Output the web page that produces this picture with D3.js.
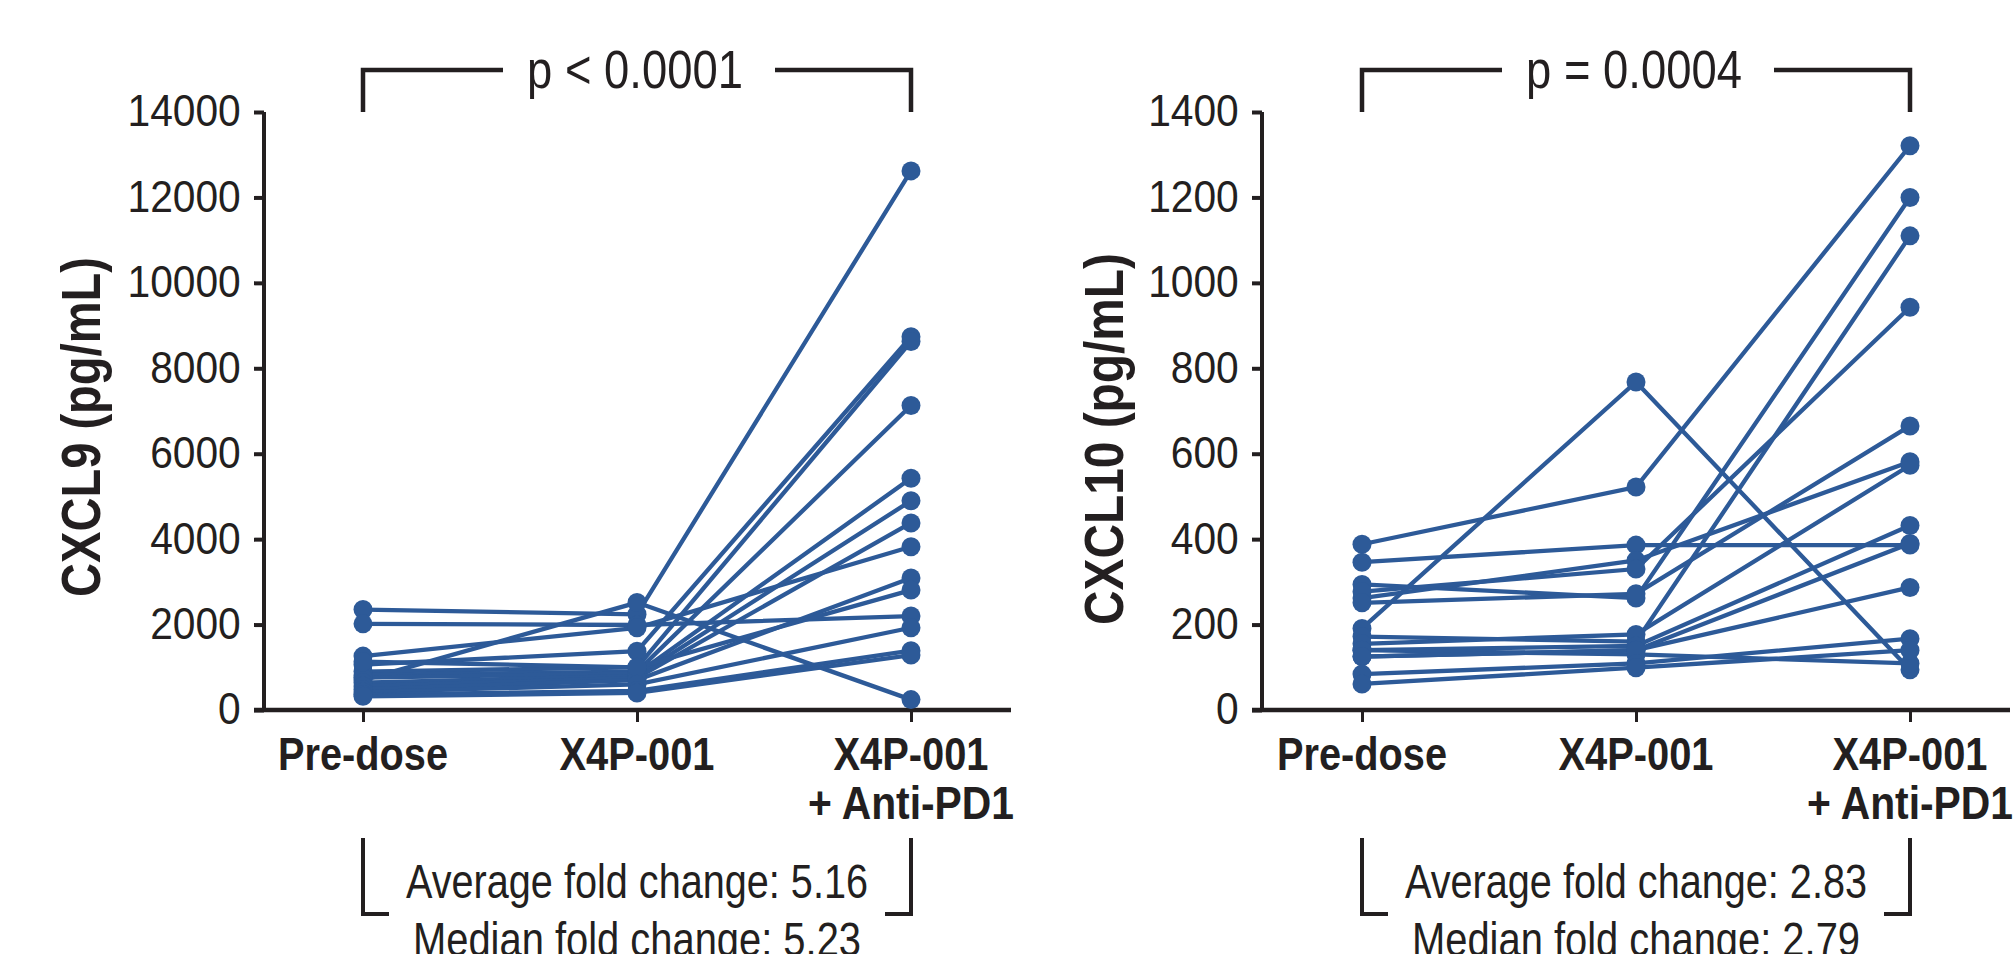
<!DOCTYPE html>
<html>
<head>
<meta charset="utf-8">
<script src="https://cdn.jsdelivr.net/npm/d3@7/dist/d3.min.js"></script>
<style>
  html, body { margin: 0; padding: 0; background: #ffffff; }
  svg { display: block; }
  .cond { font-family: "Liberation Sans Narrow", "Liberation Sans", "DejaVu Sans Condensed", sans-serif; }
</style>
</head>
<body>
<svg id="chart" width="2013" height="954"></svg>
<script>
// ---------------- DATA ----------------
const categories = ["Pre-dose", "X4P-001", "X4P-001 + Anti-PD1"];
const categoryLines = [["Pre-dose"], ["X4P-001"], ["X4P-001", "+ Anti-PD1"]];

// CXCL9 (pg/mL), one entry per patient
const cxcl9PreDose = [2351, 2017, 1262, 700, 1060, 900, 820, 760, 640, 560, 480, 1130, 420, 360, 320];
const cxcl9X4P     = [2240, 1990, 1925, 2515, 1375, 1000, 900, 850, 800, 750, 700, 1000, 600, 450, 400];
const cxcl9Combo   = [12621, 2200, 3822, 243, 8739, 8627, 7127, 5424, 4897, 4379, 3092, 2808, 1926, 1389, 1287];
const cxcl9Ticks   = [0, 2000, 4000, 6000, 8000, 10000, 12000, 14000];

// CXCL10 (pg/mL), one entry per patient
const cxcl10PreDose = [191, 388, 346, 294, 262, 277, 251, 172, 155, 140, 125, 140, 125, 84, 61];
const cxcl10X4P     = [768, 522, 386, 262, 350, 330, 272, 160, 177, 150, 140, 130, 140, 109, 99];
const cxcl10Combo   = [94, 1321, 386, 1200, 581, 943, 665, 1110, 573, 432, 287, 109, 390, 167, 140];
const cxcl10Ticks   = [0, 200, 400, 600, 800, 1000, 1200, 1400];

const yTitles      = ["CXCL9 (pg/mL)", "CXCL10 (pg/mL)"];
const pValueLabels = ["p < 0.0001", "p = 0.0004"];
const averageFold  = ["Average fold change: 5.16", "Average fold change: 2.83"];
const medianFold   = ["Median fold change: 5.23", "Median fold change: 2.79"];

// ---------------- STYLE / LAYOUT ----------------
const INK = "#231f20";
const BLUE = "#2d5a98";
const svg = d3.select("#chart");

const panels = [
  { axisX: 264, catRange: [363, 911], max: 14000, ticks: cxcl9Ticks,
    pre: cxcl9PreDose, mid: cxcl9X4P, post: cxcl9Combo,
    title: yTitles[0], titleX: 100, titleY: 427, titleLen: 340,
    p: pValueLabels[0], avg: averageFold[0], med: medianFold[0] },
  { axisX: 1262, catRange: [1362, 1910], max: 1400, ticks: cxcl10Ticks,
    pre: cxcl10PreDose, mid: cxcl10X4P, post: cxcl10Combo,
    title: yTitles[1], titleX: 1123, titleY: 439, titleLen: 372,
    p: pValueLabels[1], avg: averageFold[1], med: medianFold[1] }
];

const Y0 = 710, YTOP = 112;

panels.forEach(P => {
  const g = svg.append("g");
  const x = d3.scalePoint().domain(categories).range(P.catRange);
  const y = d3.scaleLinear().domain([0, P.max]).range([Y0, YTOP]);
  const cx = (P.catRange[0] + P.catRange[1]) / 2;
  const x0 = P.catRange[0], x2 = P.catRange[1];

  // y axis
  const yAxis = d3.axisLeft(y).tickValues(P.ticks).tickSize(10).tickSizeOuter(0).tickPadding(14)
    .tickFormat(d3.format("d"));
  const ya = g.append("g").attr("transform", `translate(${P.axisX},0)`).call(yAxis);
  ya.select(".domain").attr("stroke", INK).attr("stroke-width", 4)
    .attr("d", `M0,${YTOP}V${Y0}`);
  ya.selectAll(".tick line").attr("stroke", INK).attr("stroke-width", 4);
  ya.selectAll(".tick text").attr("fill", INK)
    .attr("font-family", "'Liberation Sans', Arial, sans-serif")
    .attr("font-size", 42)
    .attr("transform", "scale(0.97,1.04)");

  // x axis (baseline + ticks)
  const xAxis = d3.axisBottom(x).tickSize(12).tickSizeOuter(0).tickFormat("");
  const xa = g.append("g").attr("transform", `translate(0,${Y0})`).call(xAxis);
  xa.select(".domain").attr("stroke", INK).attr("stroke-width", 4.5)
    .attr("d", `M${P.axisX - 10},0H${x2 + 100}`);
  xa.selectAll(".tick line").attr("stroke", INK).attr("stroke-width", 3);

  // category labels
  const lens = { "Pre-dose": 170, "X4P-001": 155, "+ Anti-PD1": 206 };
  categoryLines.forEach((lines, i) => {
    const t = g.append("text").attr("class", "cond")
      .attr("text-anchor", "middle").attr("font-weight", "bold")
      .attr("font-size", 46).attr("fill", INK);
    lines.forEach((ln, j) => {
      t.append("tspan").attr("x", x(categories[i])).attr("y", 770 + j * 49)
        .attr("textLength", lens[ln]).attr("lengthAdjust", "spacingAndGlyphs")
        .text(ln);
    });
  });

  // y title
  g.append("text").attr("class", "cond")
    .attr("transform", `translate(${P.titleX},${P.titleY}) rotate(-90)`)
    .attr("text-anchor", "middle").attr("font-weight", "bold")
    .attr("font-size", 56).attr("fill", INK)
    .attr("textLength", P.titleLen).attr("lengthAdjust", "spacingAndGlyphs")
    .text(P.title);

  // significance bracket
  g.append("path").attr("fill", "none").attr("stroke", INK).attr("stroke-width", 4.5)
    .attr("d", `M${x0},${YTOP}V70H${cx - 134}M${cx + 138},70H${x2}V${YTOP}`);
  g.append("text").attr("class", "cond").attr("x", cx - 2).attr("y", 88)
    .attr("text-anchor", "middle").attr("font-size", 54).attr("fill", INK)
    .attr("textLength", 216).attr("lengthAdjust", "spacingAndGlyphs")
    .text(P.p);

  // fold-change bracket
  g.append("path").attr("fill", "none").attr("stroke", INK).attr("stroke-width", 4)
    .attr("d", `M${x0},838V914H${x0 + 26}M${x2 - 26},914H${x2}V838`);
  g.append("text").attr("class", "cond").attr("x", cx).attr("y", 898)
    .attr("text-anchor", "middle").attr("font-size", 49).attr("fill", INK)
    .attr("textLength", 462).attr("lengthAdjust", "spacingAndGlyphs")
    .text(P.avg);
  g.append("text").attr("class", "cond").attr("x", cx).attr("y", 956)
    .attr("text-anchor", "middle").attr("font-size", 49).attr("fill", INK)
    .attr("textLength", 448).attr("lengthAdjust", "spacingAndGlyphs")
    .text(P.med);

  // patient lines and dots
  const patients = P.pre.map((v, i) => [P.pre[i], P.mid[i], P.post[i]]);
  const line = d3.line().x((d, i) => x(categories[i])).y(d => y(d));
  g.append("g").selectAll("path").data(patients).join("path")
    .attr("d", line).attr("fill", "none").attr("stroke", BLUE).attr("stroke-width", 4.3);
  const dots = [];
  patients.forEach(p => p.forEach((v, i) => dots.push({ c: categories[i], v })));
  g.append("g").selectAll("circle").data(dots).join("circle")
    .attr("cx", d => x(d.c)).attr("cy", d => y(d.v)).attr("r", 9.5).attr("fill", BLUE);
});
</script>
</body>
</html>
